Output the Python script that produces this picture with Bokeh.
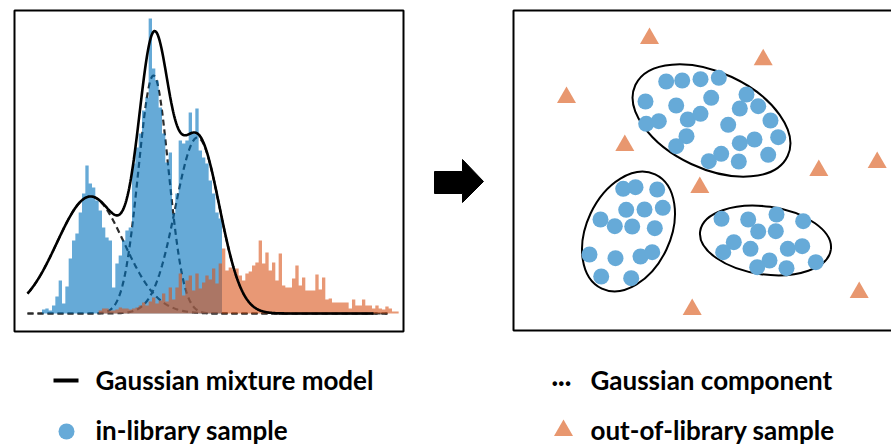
import numpy as np
from bokeh.plotting import figure
from bokeh.models import Range1d
from bokeh.core.properties import value
from bokeh.embed import file_html
from bokeh.resources import INLINE

# ---------------- data ----------------
bin_width = 3.333
blue_start = 41.5
blue_heights = [4, 5, 3, 8, 17, 33, 10, 27, 55, 73, 80, 101, 120, 148, 130, 126, 113, 103,
                86, 76, 73, 26, 50, 58, 73, 83, 86, 150, 166, 180, 203, 216, 295, 245, 233,
                206, 180, 151, 161, 100, 120, 173, 170, 173, 201, 180, 205, 163, 156, 150,
                133, 120, 101, 95]
orange_start = 98.17
orange_heights = [3, 5, 5, 3, 3, 4, 6, 5, 5, 4, 5, 6, 8, 11, 8, 12, 16, 10, 13, 20, 12, 26,
                  14, 26, 40, 18, 33, 38, 23, 40, 25, 31, 38, 34, 45, 30, 50, 65, 43, 46, 44,
                  45, 38, 33, 40, 42, 48, 51, 73, 50, 61, 43, 51, 33, 60, 28, 26, 26, 35, 48,
                  28, 36, 23, 23, 23, 39, 24, 36, 14, 15, 11, 11, 11, 11, 11, 5, 14, 8, 8, 14,
                  8, 8, 5, 8, 5, 4, 7, 5, 2, 2]

comp_means = [90, 153, 197]
comp_sds = [33.5, 15, 22]
comp_peaks = [117, 238, 176]
curve_start, comp_end, gmm_end = 27, 387, 373

in_x = [665.7, 681.7, 700, 718.3, 645, 675.7, 710.7, 746, 739.3, 757.7, 645.7, 658.3, 687.3,
        700, 727.7, 770, 686, 675.7, 739.3, 754, 777.7, 708.3, 720.7, 738.3, 767.7,
        622.7, 635, 656.7, 625.7, 644, 662.3, 600, 614.3, 631.7, 654.3, 589, 615, 640,
        651.7, 600.7, 630.7,
        721, 747.7, 776, 802.7, 757.7, 775.3, 733.3, 722.7, 750, 787.3, 801.7, 769,
        756.7, 786, 815.3]
in_y = [81, 80, 78.7, 77.3, 101, 105, 97.3, 94, 108, 105.7, 123.3, 120.7, 119, 113.3,
        124.3, 120, 135.7, 145.7, 142.7, 139, 136.7, 160.7, 153.3, 161, 154.3,
        188.3, 186.7, 189, 209.3, 209, 207.3, 219, 225.7, 226, 227.7, 254, 257.7, 256,
        251.7, 276, 277.7,
        218.3, 219, 214, 220.7, 231, 230.7, 241.7, 251.7, 248.3, 248.3, 245.7, 260,
        266.7, 267.7, 261.7]
out_x = [649, 762.7, 566, 624.3, 818.3, 876.7, 699.3, 858.7, 691.7]
out_y = [38, 59.3, 97, 145, 170, 162, 187, 292, 309]

ell_x = [711, 628, 765]
ell_y = [120, 231, 240]
ell_w = [168, 126, 132]
ell_h = [96, 84, 68]
ell_angle = [-25, 65, -8]

legend_labels = ["Gaussian mixture model", "Gaussian component",
                 "in-library sample", "out-of-library sample"]

BLUE_BAR = "#0072BD"
ORANGE_BAR = "#D95319"
BLUE_DOT = "#66AAD8"
ORANGE_TRI = "#E8976F"
FONT = "Lato"

# ---------------- figure ----------------
p = figure(width=891, height=447, x_range=Range1d(0, 891), y_range=Range1d(447, 0),
           output_backend="svg", toolbar_location=None, min_border=0,
           x_axis_type=None, y_axis_type=None)
p.grid.visible = False
p.outline_line_color = None
p.background_fill_color = "white"
p.border_fill_color = "white"
p.extra_y_ranges = {"hy": Range1d(start=-134, end=313)}

# Gaussian components (dashed, under histograms)
xs = np.linspace(curve_start, comp_end, 600)
comps = [pk * np.exp(-(xs - m) ** 2 / (2 * s ** 2))
         for m, s, pk in zip(comp_means, comp_sds, comp_peaks)]
for c in comps:
    p.line(xs, c, y_range_name="hy", line_color="#2b2b2b", line_width=2.2,
           line_dash="6 4")

# histograms drawn as single step areas (no seams between bars)
def step_hist(start, heights, color):
    edges = start + bin_width * np.arange(len(heights) + 1)
    tops = list(heights) + [heights[-1]]
    p.varea_step(x=edges, y1=np.zeros(len(edges)), y2=tops, step_mode="after",
                 y_range_name="hy", fill_color=color, fill_alpha=0.6)

step_hist(blue_start, blue_heights, BLUE_BAR)
step_hist(orange_start, orange_heights, ORANGE_BAR)

# GMM
xg = np.linspace(curve_start, gmm_end, 600)
gmm = sum(pk * np.exp(-(xg - m) ** 2 / (2 * s ** 2))
          for m, s, pk in zip(comp_means, comp_sds, comp_peaks))
p.line(xg, gmm, y_range_name="hy", line_color="black", line_width=2.6)

# panel frames
p.quad(left=[14, 513], right=[403, 894], top=[10, 10], bottom=[331, 330],
       fill_color=None, line_color="black", line_width=2)

# arrow
p.patch([434, 462, 462, 483, 462, 462, 434], [171, 171, 159, 181, 202, 193, 193],
        fill_color="black", line_color="black")

# right panel
p.ellipse(ell_x, ell_y, width=ell_w, height=ell_h, angle=ell_angle, angle_units="deg",
          fill_color=None, line_color="black", line_width=2)
p.scatter(in_x, in_y, marker="circle", size=16, fill_color=BLUE_DOT, line_color=None)
p.scatter(out_x, out_y, marker="triangle", size=19, fill_color=ORANGE_TRI, line_color=None)

# legend
p.line([53, 78], [380, 380], line_color="black", line_width=4)
p.text([551], [381], text=["···"], text_font=value(FONT), text_font_style="bold",
       text_font_size="24px", text_baseline="middle", text_color="black")
p.scatter([66], [431], marker="circle", size=16, fill_color=BLUE_DOT, line_color=None)
p.scatter([563], [430], marker="triangle", size=19, fill_color=ORANGE_TRI, line_color=None)
p.text([95, 590, 95, 590], [379, 379, 429, 429], text=legend_labels,
       text_font=value(FONT), text_font_style="bold", text_font_size="26px",
       text_baseline="middle", text_color="black")

open("out.html", "w").write(file_html(p, INLINE))
